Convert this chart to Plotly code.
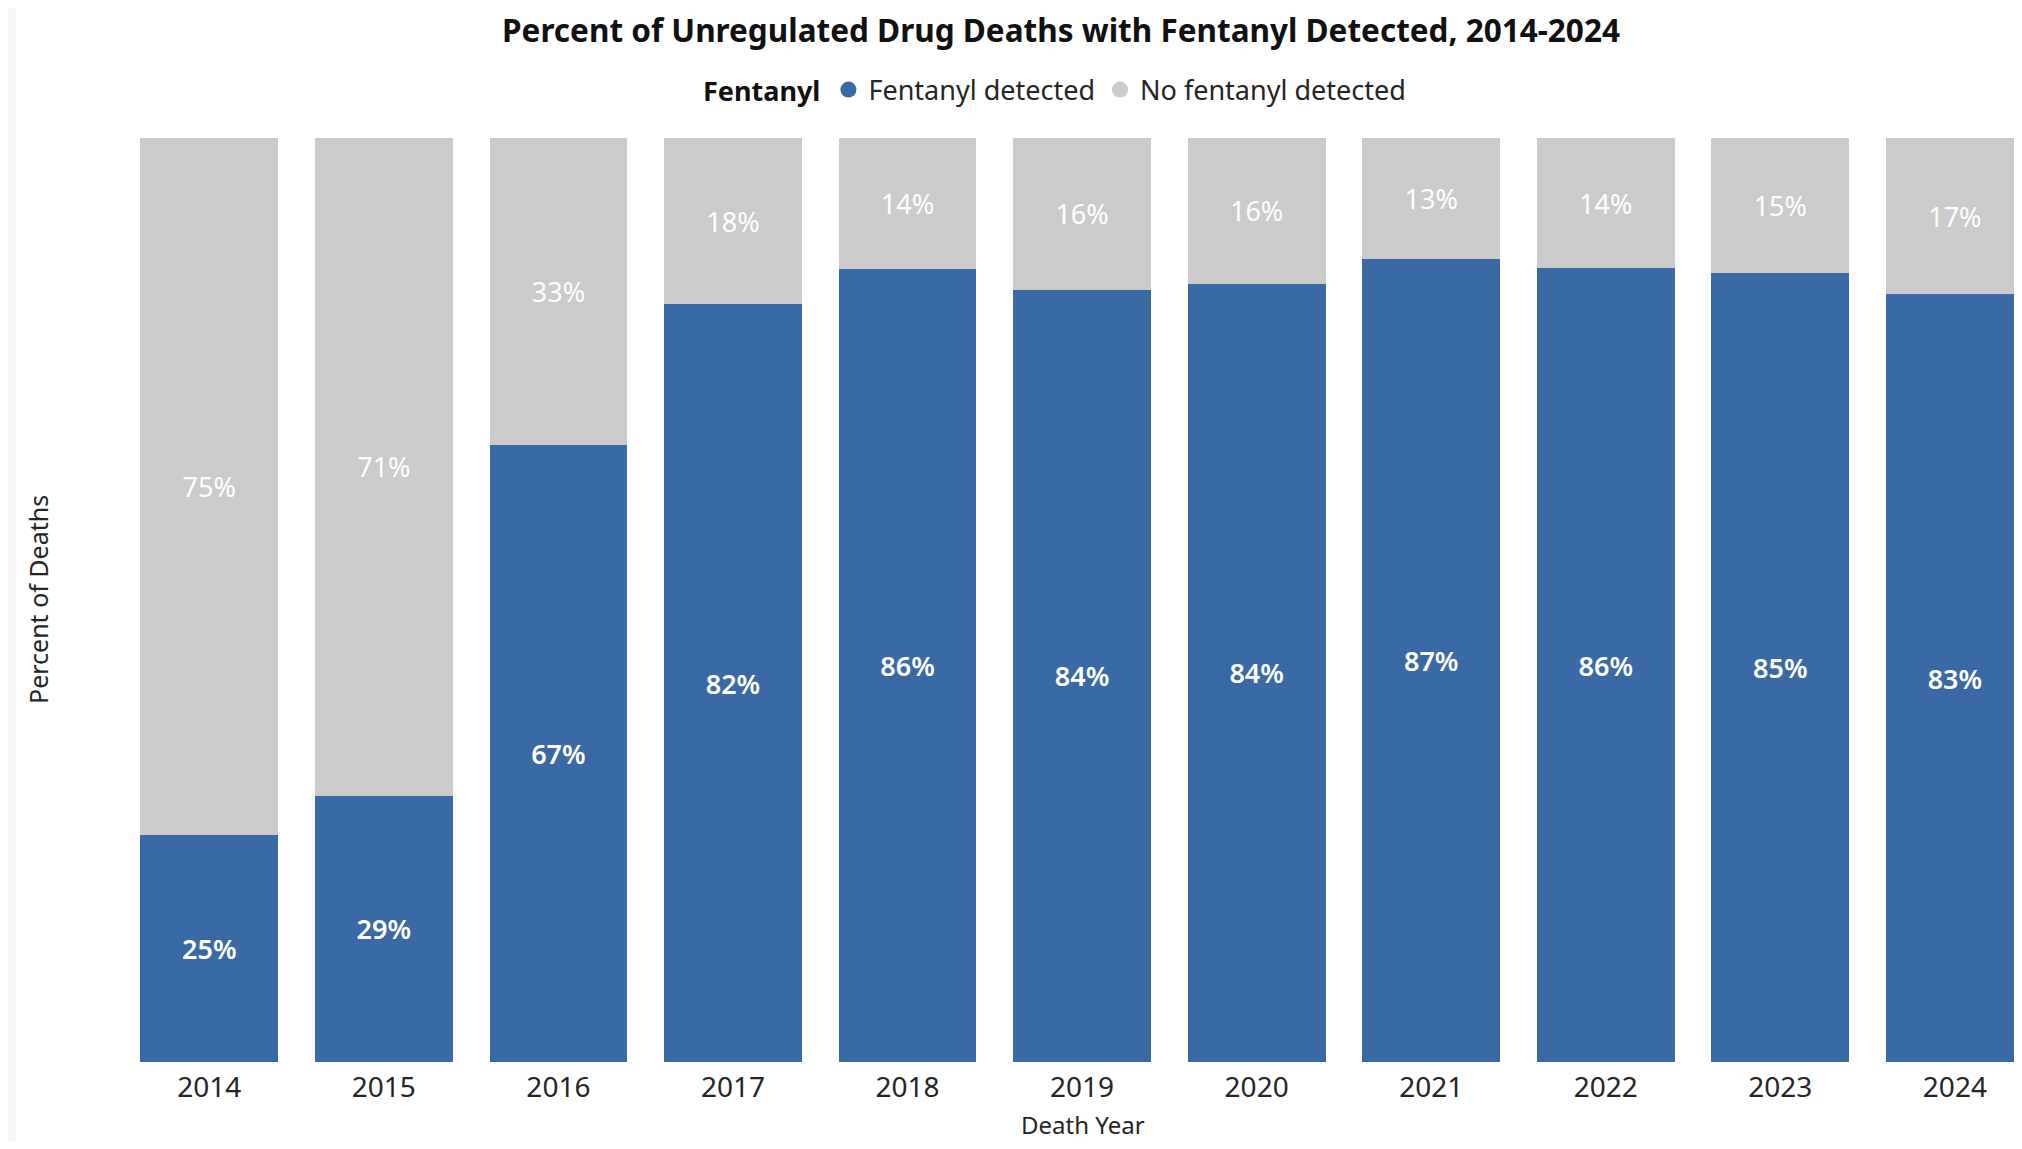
import plotly.graph_objects as go

years = ["2014", "2015", "2016", "2017", "2018", "2019", "2020", "2021", "2022", "2023", "2024"]
fentanyl_detected = [24.6, 28.8, 66.8, 82.0, 85.8, 83.6, 84.2, 86.9, 85.9, 85.4, 83.1]
no_fentanyl_detected = [75.4, 71.2, 33.2, 18.0, 14.2, 16.4, 15.8, 13.1, 14.1, 14.6, 16.9]

BLUE = "#3A6AA5"
GREY = "#CBCBCB"
FONT = "Noto Sans"
# page is 2022x1149; the browser body adds an 8px margin on each side,
# so the figure is made smaller to avoid scrollbars
OFF = 8
W, H = 2022 - 2 * OFF, 1149 - 2 * OFF
# plot area in page pixels: x 122..(right edge of figure), y 138..1062
L, T = 122 - OFF, 138 - OFF
R = 0
B = (OFF + H) - 1062
PW, PH = W - L - R, H - T - B
CAT = 174.56  # pixel width per category


def px_x(page_x):
    return (page_x - OFF - L) / PW


def px_y(page_y):
    return 1 - (page_y - OFF - T) / PH


fig = go.Figure()
fig.add_trace(go.Bar(
    x=years, y=fentanyl_detected, name="Fentanyl detected",
    marker=dict(color=BLUE, line=dict(width=0)),
    texttemplate="%{y:.0f}%", textposition="inside", insidetextanchor="middle",
    textangle=0, constraintext="none",
    textfont=dict(family=FONT, size=27, color="white", weight=600),
    showlegend=False,
))
fig.add_trace(go.Bar(
    x=years, y=no_fentanyl_detected, name="No fentanyl detected",
    marker=dict(color=GREY, line=dict(width=0)),
    texttemplate="%{y:.0f}%", textposition="inside", insidetextanchor="middle",
    textangle=0, constraintext="none",
    textfont=dict(family=FONT, size=27, color="white"),
    showlegend=False,
))
# legend entries with circle markers
for nm, col in [("Fentanyl detected", BLUE), ("No fentanyl detected", GREY)]:
    fig.add_trace(go.Scatter(x=[None], y=[None], mode="markers", name=nm,
                             marker=dict(symbol="circle", size=20, color=col),
                             showlegend=True, hoverinfo="skip"))

fig.update_layout(
    width=W, height=H,
    barmode="stack", bargap=0.211,
    margin=dict(l=L, r=R, t=T, b=B, pad=0),
    paper_bgcolor="white", plot_bgcolor="white",
    font=dict(family=FONT, size=26, color="#252525"),
    title=dict(text="<b>Percent of Unregulated Drug Deaths with Fentanyl Detected, 2014-2024</b>",
               x=(1061 - OFF) / W, xanchor="center", xref="container",
               y=1 - (31 - OFF) / H, yanchor="middle", yref="container",
               font=dict(family=FONT, size=31.5, color="#111111")),
    legend=dict(orientation="h", xref="container", yref="container", traceorder="normal",
                x=(1056 - OFF) / W, xanchor="center", y=1 - (90 - OFF) / H, yanchor="middle",
                title=dict(text="<b>Fentanyl</b>", font=dict(family=FONT, size=27, color="#111111")),
                font=dict(family=FONT, size=27, color="#252525"),
                bgcolor="rgba(0,0,0,0)"),
    xaxis=dict(type="category", range=[-0.5, PW / CAT - 0.5],
               showgrid=False, showline=False, zeroline=False, ticks="",
               tickfont=dict(family=FONT, size=28, color="#252525"),
               ticklabelstandoff=6, fixedrange=True),
    yaxis=dict(range=[0, 100], showgrid=False, showline=False, zeroline=False,
               showticklabels=False, ticks="", fixedrange=True),
    annotations=[
        dict(text="Percent of Deaths", textangle=-90, xref="paper", yref="paper",
             x=px_x(38), y=0.5, xanchor="center", yanchor="middle", showarrow=False,
             font=dict(family=FONT, size=25, color="#252525")),
        dict(text="Death Year", xref="paper", yref="paper",
             x=px_x(1083), y=px_y(1124), xanchor="center", yanchor="middle",
             showarrow=False, font=dict(family=FONT, size=24, color="#252525")),
    ],
    shapes=[
        dict(type="rect", xref="paper", yref="paper", layer="below",
             x0=px_x(0), x1=px_x(16), y0=px_y(1160), y1=px_y(0),
             fillcolor="#F7F7F7", line=dict(width=0)),
    ],
)

fig.write_html("out.html")
